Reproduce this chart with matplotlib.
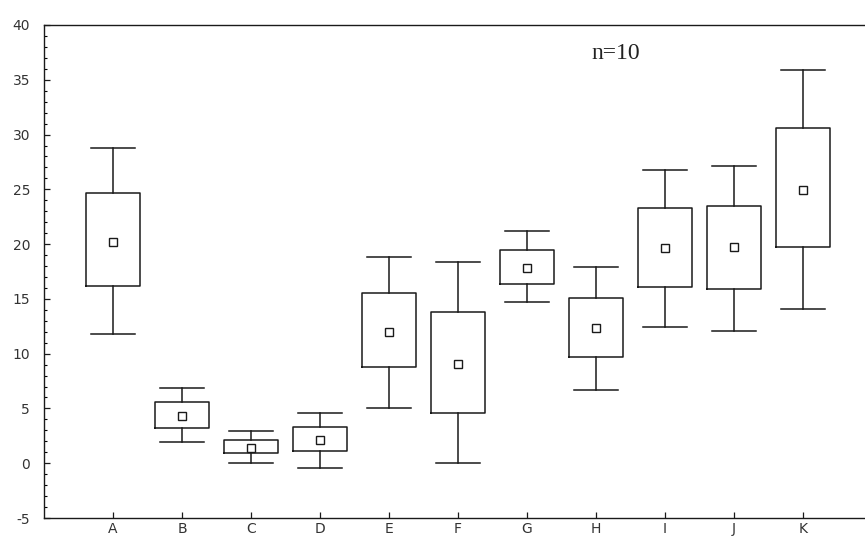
import matplotlib.pyplot as plt
from matplotlib.ticker import MultipleLocator

plt.rcParams["axes.unicode_minus"] = False

# Groups and their summary values
groups = ["A", "B", "C", "D", "E", "F", "G", "H", "I", "J", "K"]
means = [20.2, 4.3, 1.4, 2.1, 12.0, 9.05, 17.8, 12.3, 19.6, 19.7, 24.9]
box_low = [16.2, 3.2, 0.9, 1.1, 8.75, 4.6, 16.35, 9.7, 16.1, 15.9, 19.7]
box_high = [24.7, 5.6, 2.1, 3.3, 15.5, 13.8, 19.5, 15.1, 23.3, 23.5, 30.6]
whisk_low = [11.8, 1.9, 0.0, -0.4, 5.05, 0.0, 14.7, 6.7, 12.45, 12.1, 14.1]
whisk_high = [28.75, 6.9, 2.9, 4.6, 18.8, 18.4, 21.2, 17.9, 26.75, 27.1, 35.9]

stats = []
for g, m, lo, hi, wl, wh in zip(groups, means, box_low, box_high, whisk_low, whisk_high):
    stats.append({"label": g, "mean": m, "med": m, "q1": lo, "q3": hi,
                  "whislo": wl, "whishi": wh, "fliers": []})

fig = plt.figure(figsize=(8.65, 5.4), dpi=100)
ax = fig.add_axes([44 / 865, 22 / 540, 828 / 865, 493 / 540])

ink = "#1a1a1a"
line = dict(color=ink, linewidth=1.1)
positions = list(range(1, len(groups) + 1))
ax.bxp(stats, positions=positions, widths=0.77, capwidths=0.64,
       showmeans=True, showfliers=False,
       boxprops=line, whiskerprops=line, capprops=line,
       medianprops=dict(linewidth=0),
       meanprops=dict(marker="s", markersize=6, markerfacecolor="white",
                      markeredgecolor=ink, markeredgewidth=1.0))

ax.set_xlim(0, 12)
ax.set_ylim(-5, 40)
ax.yaxis.set_major_locator(MultipleLocator(5))
ax.yaxis.set_minor_locator(MultipleLocator(1))
ax.tick_params(axis="both", direction="in", colors=ink, labelcolor="#333333",
               labelsize=10, length=4, width=0.9)
ax.tick_params(axis="y", which="minor", direction="in", length=2, width=0.8)
ax.tick_params(axis="y", pad=10)
ax.tick_params(axis="x", pad=3)
ax.set_xticks(positions)
ax.set_xticklabels(groups)
for s in ax.spines.values():
    s.set_color(ink)
    s.set_linewidth(1.0)

ax.text(7.94, 36.9, "n=10", family="Liberation Serif", fontsize=17,
        color="#222222", va="baseline")

fig.savefig("out.png", dpi=100)
